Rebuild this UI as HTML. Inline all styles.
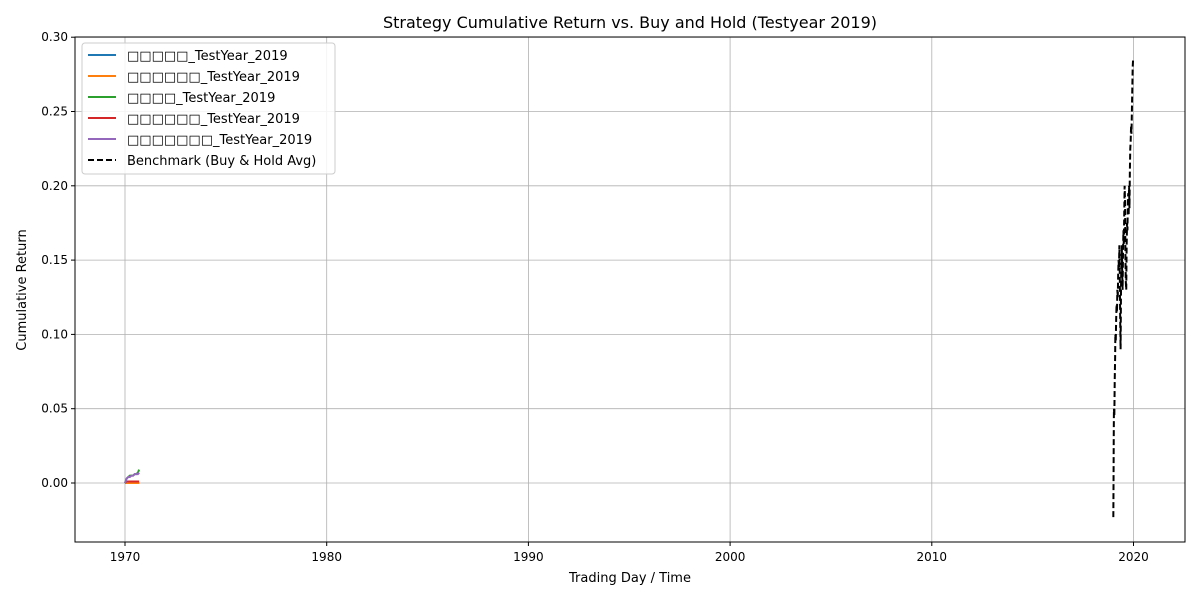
<!DOCTYPE html>
<html><head><meta charset="utf-8"><style>
body{margin:0;background:#fff;font-family:"Liberation Sans","DejaVu Sans",sans-serif}
svg text{font-family:"DejaVu Sans","Liberation Sans",sans-serif;fill:#000}
</style></head><body>
<svg id="chart" width="1200" height="600" xmlns="http://www.w3.org/2000/svg">
<rect width="1200" height="600" fill="#fff"/>
<text x="630" y="28" font-size="16" text-anchor="middle">Strategy Cumulative Return vs. Buy and Hold (Testyear 2019)</text>
<g id="grid"></g>
<g id="series"></g>
<rect x="75" y="37" width="1110" height="505" fill="none" stroke="#000" stroke-width="1"/>
<g id="ticks"></g>
<text x="630" y="582" font-size="13" text-anchor="middle">Trading Day / Time</text>
<text x="26" y="290" font-size="13" text-anchor="middle" transform="rotate(-90 26 290)">Cumulative Return</text>
<g id="legend">
<rect x="82" y="43" width="253" height="131" rx="3" fill="#fff" fill-opacity="0.85" stroke="#ccc"/>
</g>
</svg>
<script>
const xTicks=[1970,1980,1990,2000,2010,2020];
const yTicks=[0.00,0.05,0.10,0.15,0.20,0.25,0.30];
const yTickLabels=["0.00","0.05","0.10","0.15","0.20","0.25","0.30"];
const benchT=[2019.00,2019.01,2019.02,2019.03,2019.05,2019.07,2019.09,2019.10,2019.12,2019.14,2019.16,2019.18,2019.20,2019.22,2019.24,2019.26,2019.28,2019.30,2019.32,2019.34,2019.36,2019.38,2019.40,2019.42,2019.44,2019.46,2019.48,2019.50,2019.52,2019.54,2019.56,2019.58,2019.60,2019.62,2019.64,2019.66,2019.68,2019.70,2019.72,2019.74,2019.76,2019.78,2019.80,2019.82,2019.84,2019.86,2019.88,2019.90,2019.92,2019.94,2019.96,2019.98];
const benchV=[-0.023,0.000,0.030,0.050,0.045,0.070,0.085,0.100,0.095,0.110,0.120,0.115,0.130,0.125,0.140,0.150,0.145,0.160,0.140,0.110,0.090,0.130,0.150,0.160,0.140,0.130,0.155,0.170,0.160,0.180,0.200,0.190,0.150,0.135,0.130,0.160,0.175,0.170,0.190,0.195,0.180,0.200,0.185,0.210,0.225,0.230,0.240,0.235,0.250,0.265,0.280,0.285];
const stratT=[1970.00,1970.08,1970.16,1970.24,1970.32,1970.40,1970.48,1970.56,1970.64,1970.70];
const s1=[0,0,0,0,0,0,0,0,0,0];
const s2=[0,0,0,0,0,0,0,0,0,0];
const s3=[0,0.003,0.004,0.005,0.005,0.005,0.006,0.006,0.007,0.009];
const s4=[0,0.001,0.001,0.001,0.001,0.001,0.001,0.001,0.001,0.001];
const s5=[0,0.003,0.004,0.004,0.005,0.005,0.006,0.006,0.006,0.007];
const names=["□□□□□_TestYear_2019","□□□□□□_TestYear_2019","□□□□_TestYear_2019","□□□□□□_TestYear_2019","□□□□□□□_TestYear_2019","Benchmark (Buy & Hold Avg)"];
const colors=["#1f77b4","#ff7f0e","#2ca02c","#d62728","#9467bd","#000"];
const X=v=>125+(v-1970)*20.17;
const Y=v=>483-v*1486;
const NS="http://www.w3.org/2000/svg";
function mk(t,a,p){const e=document.createElementNS(NS,t);for(const k in a)e.setAttribute(k,a[k]);p.appendChild(e);return e;}
const grid=document.getElementById('grid'),ticks=document.getElementById('ticks');
xTicks.forEach(t=>{
 const l=mk('line',{x1:X(t),x2:X(t),y1:37,y2:542,stroke:'#b0b0b0','stroke-width':0.8},grid);
 
 
 mk('line',{x1:X(t),x2:X(t),y1:542,y2:546,stroke:'#000'},ticks);
 const tx=mk('text',{x:X(t),y:561,'font-size':12,'text-anchor':'middle'},ticks);tx.textContent=t;
 
 
});
yTicks.forEach((t,i)=>{
 const l=mk('line',{x1:75,x2:1185,y1:Y(t),y2:Y(t),stroke:'#b0b0b0','stroke-width':0.8},grid);
 
 
 mk('line',{x1:71,x2:75,y1:Y(t),y2:Y(t),stroke:'#000'},ticks);
 const tx=mk('text',{x:68,y:Y(t)+4,'font-size':12,'text-anchor':'end'},ticks);tx.textContent=yTickLabels[i];
 
 
});
const ser=document.getElementById('series');
function line(ts,vs,c,dash,name){
 const p=mk('polyline',{points:ts.map((t,i)=>X(t)+','+Y(vs[i])).join(' '),fill:'none',stroke:c,'stroke-width':2,'stroke-dasharray':dash||'none'},ser);
 
 
}
[s1,s2,s3,s4,s5].forEach((s,i)=>line(stratT,s,colors[i],null,'strategy-line-'+(i+1)));
line(benchT,benchV,'#000','6,3','benchmark-line');
const lg=document.getElementById('legend');
names.forEach((n,i)=>{
 const y=55+i*21;
 mk('line',{x1:88,x2:116,y1:y,y2:y,stroke:colors[i],'stroke-width':2,'stroke-dasharray':i==5?'6,3':'none'},lg);
 const tx=mk('text',{x:127,y:y+5,'font-size':13},lg);tx.textContent=n;
 
 
});
</script>
</body></html>
